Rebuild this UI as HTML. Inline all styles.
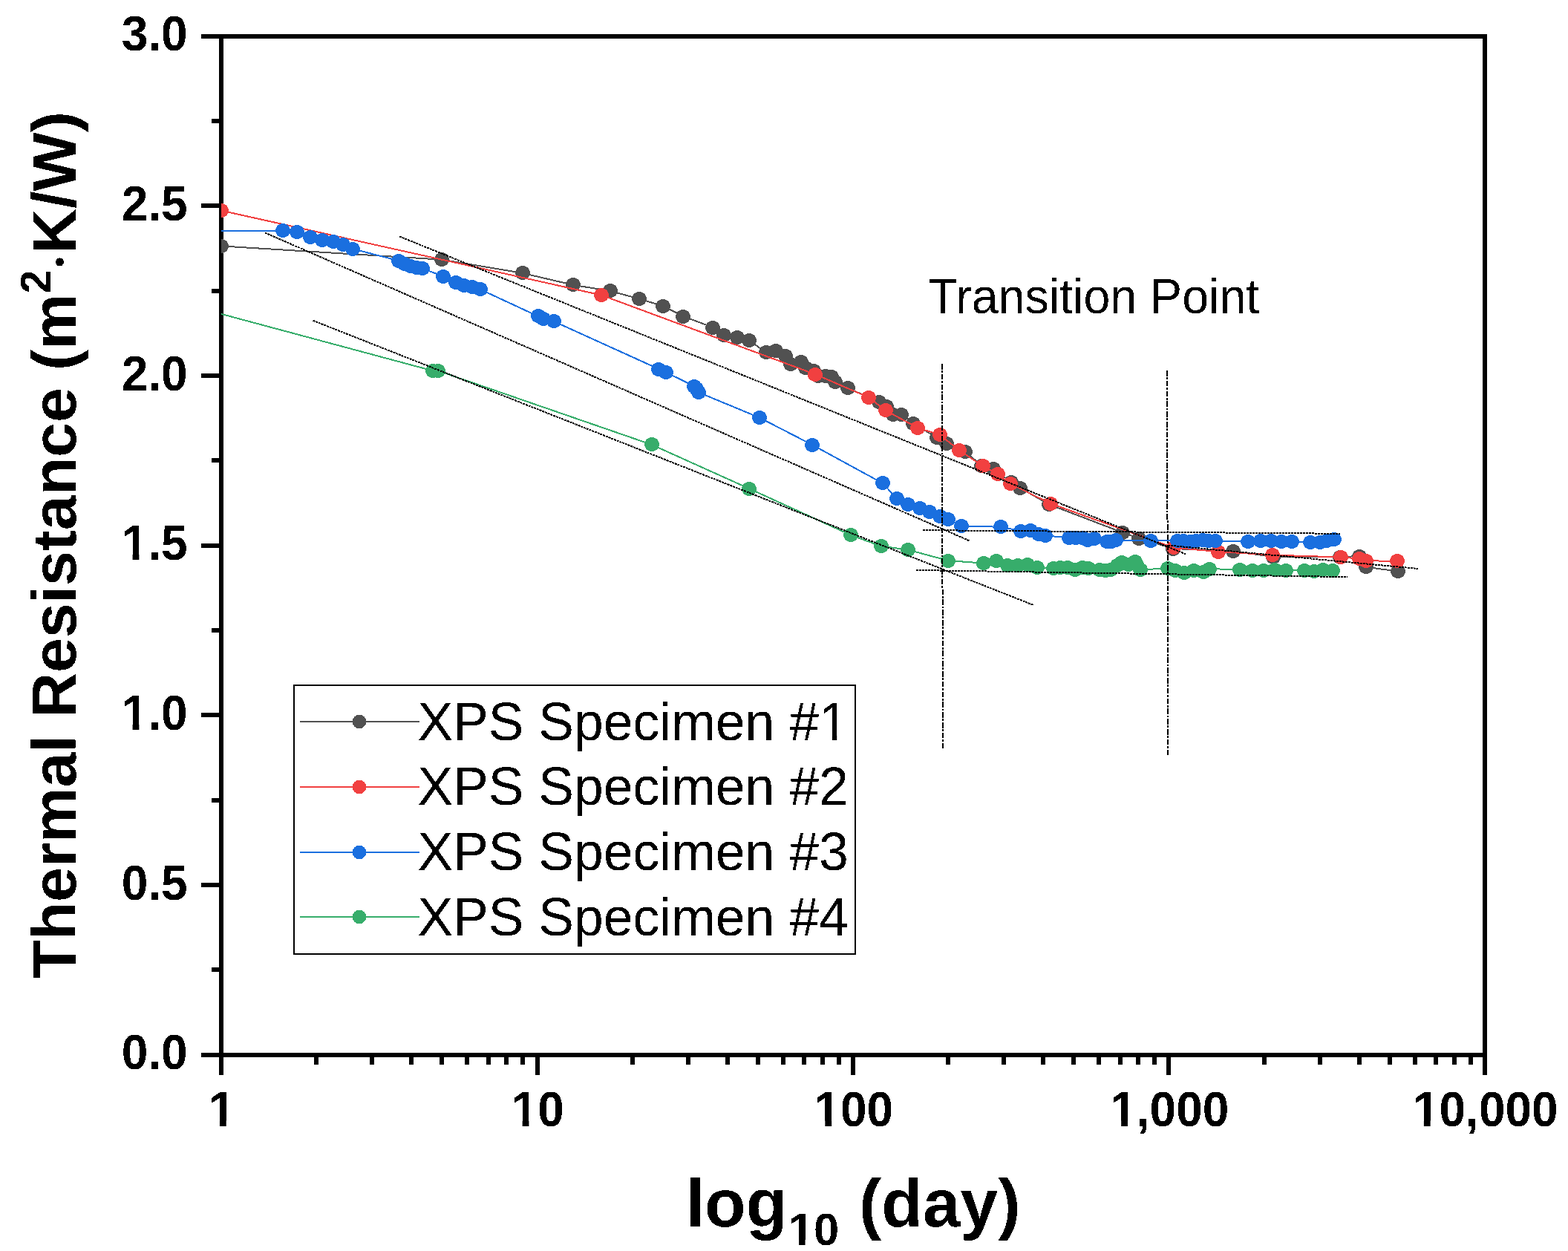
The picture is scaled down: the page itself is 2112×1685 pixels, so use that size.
<!DOCTYPE html>
<html lang="en"><head><meta charset="utf-8"><title>Thermal Resistance vs log10 (day)</title>
<style>
html,body{margin:0;padding:0;background:#fff;}
body{width:2112px;height:1685px;}
svg{display:block;}
text{font-family:"Liberation Sans",Arial,Helvetica,sans-serif;fill:#000;filter:url(#bw);}
.tk{font-weight:bold;}
.ttl{font-weight:bold;}
.lg{}
.an{}
.ds{stroke:#000;stroke-width:2;fill:none;stroke-dasharray:3 1;}
.dv{stroke-dasharray:7.7 1.5 2.9 1.7;}
</style></head><body>
<svg width="2112" height="1685" viewBox="0 0 2112 1685" role="img" aria-label="Thermal resistance of XPS specimens versus log10 day">
<rect width="2112" height="1685" fill="#fff"/>
<defs><filter id="bw" x="-5%" y="-20%" width="110%" height="140%" color-interpolation-filters="sRGB"><feComponentTransfer><feFuncA type="discrete" tableValues="0 1"/></feComponentTransfer></filter><clipPath id="pa"><rect x="298" y="49" width="1702" height="1372"/></clipPath></defs>
<g fill="#000" shape-rendering="crispEdges">
<rect x="295" y="46" width="6" height="1378"/>
<rect x="1997" y="46" width="6" height="1378"/>
<rect x="295" y="46" width="1708" height="6"/>
<rect x="295" y="1418" width="1708" height="6"/>
<rect x="271" y="1418" width="24" height="6"/>
<rect x="285" y="1303" width="10" height="6"/>
<rect x="271" y="1189" width="24" height="6"/>
<rect x="285" y="1075" width="10" height="6"/>
<rect x="271" y="960" width="24" height="6"/>
<rect x="285" y="846" width="10" height="6"/>
<rect x="271" y="732" width="24" height="6"/>
<rect x="285" y="617" width="10" height="6"/>
<rect x="271" y="503" width="24" height="6"/>
<rect x="285" y="389" width="10" height="6"/>
<rect x="271" y="274" width="24" height="6"/>
<rect x="285" y="160" width="10" height="6"/>
<rect x="271" y="46" width="24" height="6"/>
<rect x="295" y="1424" width="6" height="24"/>
<rect x="423" y="1424" width="6" height="10"/>
<rect x="498" y="1424" width="6" height="10"/>
<rect x="551" y="1424" width="6" height="10"/>
<rect x="592" y="1424" width="6" height="10"/>
<rect x="626" y="1424" width="6" height="10"/>
<rect x="655" y="1424" width="6" height="10"/>
<rect x="679" y="1424" width="6" height="10"/>
<rect x="701" y="1424" width="6" height="10"/>
<rect x="721" y="1424" width="6" height="24"/>
<rect x="849" y="1424" width="6" height="10"/>
<rect x="924" y="1424" width="6" height="10"/>
<rect x="977" y="1424" width="6" height="10"/>
<rect x="1018" y="1424" width="6" height="10"/>
<rect x="1052" y="1424" width="6" height="10"/>
<rect x="1080" y="1424" width="6" height="10"/>
<rect x="1105" y="1424" width="6" height="10"/>
<rect x="1127" y="1424" width="6" height="10"/>
<rect x="1146" y="1424" width="6" height="24"/>
<rect x="1274" y="1424" width="6" height="10"/>
<rect x="1349" y="1424" width="6" height="10"/>
<rect x="1402" y="1424" width="6" height="10"/>
<rect x="1443" y="1424" width="6" height="10"/>
<rect x="1477" y="1424" width="6" height="10"/>
<rect x="1506" y="1424" width="6" height="10"/>
<rect x="1530" y="1424" width="6" height="10"/>
<rect x="1552" y="1424" width="6" height="10"/>
<rect x="1571" y="1424" width="6" height="24"/>
<rect x="1700" y="1424" width="6" height="10"/>
<rect x="1775" y="1424" width="6" height="10"/>
<rect x="1828" y="1424" width="6" height="10"/>
<rect x="1869" y="1424" width="6" height="10"/>
<rect x="1903" y="1424" width="6" height="10"/>
<rect x="1931" y="1424" width="6" height="10"/>
<rect x="1956" y="1424" width="6" height="10"/>
<rect x="1978" y="1424" width="6" height="10"/>
<rect x="1997" y="1424" width="6" height="24"/>
</g>
<g clip-path="url(#pa)" shape-rendering="crispEdges">
<polyline points="298.0,331.4 595.2,349.7 704.0,367.9 771.7,383.8 821.9,391.9 860.6,402.5 892.9,412.0 920.2,426.0 960.0,441.0 975.2,451.7 993.0,454.3 1009.4,458.8 1031.5,474.5 1045.4,472.6 1058.0,479.8 1064.9,490.0 1078.6,487.8 1084.7,495.7 1096.0,499.1 1102.1,506.4 1112.0,506.4 1119.6,507.9 1124.9,514.7 1141.6,522.3 1184.4,541.7 1193.5,547.4 1202.6,558.0 1214.4,558.0 1229.8,570.9 1262.1,589.1 1275.0,597.5 1300.0,608.1 1322.0,627.1 1338.0,631.7 1361.6,649.2 1374.5,657.5 1413.2,679.5 1512.4,717.4 1533.7,725.0 1580.3,739.0 1661.4,742.4 1715.4,750.1 1804.8,750.1 1830.9,749.1 1839.8,763.8 1882.9,769.5" fill="none" stroke="#515151" stroke-width="2"/>
<g fill="#515151"><ellipse cx="298.0" cy="331.5" rx="10" ry="9.5"/><ellipse cx="595.0" cy="349.5" rx="10" ry="9.5"/><ellipse cx="704.0" cy="367.5" rx="10" ry="9.5"/><ellipse cx="772.0" cy="383.5" rx="10" ry="9.5"/><ellipse cx="822.0" cy="391.5" rx="10" ry="9.5"/><ellipse cx="861.0" cy="402.5" rx="10" ry="9.5"/><ellipse cx="893.0" cy="412.5" rx="10" ry="9.5"/><ellipse cx="920.0" cy="426.5" rx="10" ry="9.5"/><ellipse cx="960.0" cy="441.5" rx="10" ry="9.5"/><ellipse cx="975.0" cy="451.5" rx="10" ry="9.5"/><ellipse cx="993.0" cy="454.5" rx="10" ry="9.5"/><ellipse cx="1009.0" cy="458.5" rx="10" ry="9.5"/><ellipse cx="1032.0" cy="474.5" rx="10" ry="9.5"/><ellipse cx="1045.0" cy="472.5" rx="10" ry="9.5"/><ellipse cx="1058.0" cy="479.5" rx="10" ry="9.5"/><ellipse cx="1065.0" cy="490.5" rx="10" ry="9.5"/><ellipse cx="1079.0" cy="487.5" rx="10" ry="9.5"/><ellipse cx="1085.0" cy="495.5" rx="10" ry="9.5"/><ellipse cx="1096.0" cy="499.5" rx="10" ry="9.5"/><ellipse cx="1102.0" cy="506.5" rx="10" ry="9.5"/><ellipse cx="1112.0" cy="506.5" rx="10" ry="9.5"/><ellipse cx="1120.0" cy="507.5" rx="10" ry="9.5"/><ellipse cx="1125.0" cy="514.5" rx="10" ry="9.5"/><ellipse cx="1142.0" cy="522.5" rx="10" ry="9.5"/><ellipse cx="1184.0" cy="541.5" rx="10" ry="9.5"/><ellipse cx="1194.0" cy="547.5" rx="10" ry="9.5"/><ellipse cx="1203.0" cy="558.5" rx="10" ry="9.5"/><ellipse cx="1214.0" cy="558.5" rx="10" ry="9.5"/><ellipse cx="1230.0" cy="570.5" rx="10" ry="9.5"/><ellipse cx="1262.0" cy="589.5" rx="10" ry="9.5"/><ellipse cx="1275.0" cy="597.5" rx="10" ry="9.5"/><ellipse cx="1300.0" cy="608.5" rx="10" ry="9.5"/><ellipse cx="1322.0" cy="627.5" rx="10" ry="9.5"/><ellipse cx="1338.0" cy="631.5" rx="10" ry="9.5"/><ellipse cx="1362.0" cy="649.5" rx="10" ry="9.5"/><ellipse cx="1374.0" cy="657.5" rx="10" ry="9.5"/><ellipse cx="1413.0" cy="679.5" rx="10" ry="9.5"/><ellipse cx="1512.0" cy="717.5" rx="10" ry="9.5"/><ellipse cx="1534.0" cy="725.5" rx="10" ry="9.5"/><ellipse cx="1580.0" cy="739.5" rx="10" ry="9.5"/><ellipse cx="1661.0" cy="742.5" rx="10" ry="9.5"/><ellipse cx="1715.0" cy="750.5" rx="10" ry="9.5"/><ellipse cx="1805.0" cy="750.5" rx="10" ry="9.5"/><ellipse cx="1831.0" cy="749.5" rx="10" ry="9.5"/><ellipse cx="1840.0" cy="763.5" rx="10" ry="9.5"/><ellipse cx="1883.0" cy="769.5" rx="10" ry="9.5"/></g>
<polyline points="298.0,283.6 810.0,397.5 1098.0,504.1 1170.2,535.3 1193.0,552.9 1235.9,576.2 1265.9,585.7 1291.7,606.3 1323.6,627.6 1343.8,638.5 1360.9,651.5 1414.6,678.1 1581.2,737.8 1640.7,743.0 1714.2,747.6 1805.8,750.5 1830.9,752.4 1840.3,755.3 1882.0,755.8" fill="none" stroke="#F14040" stroke-width="2"/>
<g fill="#F14040"><ellipse cx="298.0" cy="283.5" rx="10" ry="9.5"/><ellipse cx="810.0" cy="397.5" rx="10" ry="9.5"/><ellipse cx="1098.0" cy="504.5" rx="10" ry="9.5"/><ellipse cx="1170.0" cy="535.5" rx="10" ry="9.5"/><ellipse cx="1193.0" cy="552.5" rx="10" ry="9.5"/><ellipse cx="1236.0" cy="576.5" rx="10" ry="9.5"/><ellipse cx="1266.0" cy="585.5" rx="10" ry="9.5"/><ellipse cx="1292.0" cy="606.5" rx="10" ry="9.5"/><ellipse cx="1324.0" cy="627.5" rx="10" ry="9.5"/><ellipse cx="1344.0" cy="638.5" rx="10" ry="9.5"/><ellipse cx="1361.0" cy="651.5" rx="10" ry="9.5"/><ellipse cx="1415.0" cy="678.5" rx="10" ry="9.5"/><ellipse cx="1581.0" cy="737.5" rx="10" ry="9.5"/><ellipse cx="1641.0" cy="743.5" rx="10" ry="9.5"/><ellipse cx="1714.0" cy="747.5" rx="10" ry="9.5"/><ellipse cx="1806.0" cy="750.5" rx="10" ry="9.5"/><ellipse cx="1831.0" cy="752.5" rx="10" ry="9.5"/><ellipse cx="1840.0" cy="755.5" rx="10" ry="9.5"/><ellipse cx="1882.0" cy="755.5" rx="10" ry="9.5"/></g>
<polyline points="298.0,310.5 380.9,310.5 400.3,312.9 418.4,319.3 433.6,323.5 448.8,325.7 462.5,329.9 475.1,335.2 537.0,351.2 545.3,355.0 552.9,358.0 561.3,360.6 568.9,361.8 597.0,372.0 614.4,380.0 625.0,384.6 636.5,386.9 647.1,389.9 724.6,425.9 732.2,429.7 745.9,432.8 887.2,497.0 897.1,501.6 935.0,520.0 938.0,523.9 940.7,528.4 1023.1,562.6 1094.5,599.4 1189.0,650.9 1208.3,671.8 1222.7,679.4 1239.4,684.3 1251.6,689.7 1265.7,695.6 1277.0,699.2 1294.7,708.4 1347.8,709.8 1374.6,715.0 1387.7,714.8 1399.0,719.2 1408.2,721.5 1440.0,724.3 1449.0,724.5 1457.5,724.5 1465.0,727.3 1473.6,725.5 1490.6,729.2 1497.2,729.7 1503.0,727.8 1549.9,728.3 1585.5,728.0 1594.2,728.5 1602.7,729.0 1611.3,728.3 1619.8,727.5 1628.3,728.8 1636.8,728.8 1680.9,729.2 1698.4,728.8 1711.6,728.3 1725.8,729.2 1740.0,729.2 1764.8,730.2 1777.5,730.0 1786.8,728.3 1797.2,726.9" fill="none" stroke="#1A6FDF" stroke-width="2"/>
<g fill="#1A6FDF"><ellipse cx="381.0" cy="310.5" rx="10" ry="9.5"/><ellipse cx="400.0" cy="312.5" rx="10" ry="9.5"/><ellipse cx="418.0" cy="319.5" rx="10" ry="9.5"/><ellipse cx="434.0" cy="323.5" rx="10" ry="9.5"/><ellipse cx="449.0" cy="325.5" rx="10" ry="9.5"/><ellipse cx="462.0" cy="329.5" rx="10" ry="9.5"/><ellipse cx="475.0" cy="335.5" rx="10" ry="9.5"/><ellipse cx="537.0" cy="351.5" rx="10" ry="9.5"/><ellipse cx="545.0" cy="355.5" rx="10" ry="9.5"/><ellipse cx="553.0" cy="358.5" rx="10" ry="9.5"/><ellipse cx="561.0" cy="360.5" rx="10" ry="9.5"/><ellipse cx="569.0" cy="361.5" rx="10" ry="9.5"/><ellipse cx="597.0" cy="372.5" rx="10" ry="9.5"/><ellipse cx="614.0" cy="380.5" rx="10" ry="9.5"/><ellipse cx="625.0" cy="384.5" rx="10" ry="9.5"/><ellipse cx="636.0" cy="386.5" rx="10" ry="9.5"/><ellipse cx="647.0" cy="389.5" rx="10" ry="9.5"/><ellipse cx="725.0" cy="425.5" rx="10" ry="9.5"/><ellipse cx="732.0" cy="429.5" rx="10" ry="9.5"/><ellipse cx="746.0" cy="432.5" rx="10" ry="9.5"/><ellipse cx="887.0" cy="497.5" rx="10" ry="9.5"/><ellipse cx="897.0" cy="501.5" rx="10" ry="9.5"/><ellipse cx="935.0" cy="520.5" rx="10" ry="9.5"/><ellipse cx="938.0" cy="523.5" rx="10" ry="9.5"/><ellipse cx="941.0" cy="528.5" rx="10" ry="9.5"/><ellipse cx="1023.0" cy="562.5" rx="10" ry="9.5"/><ellipse cx="1094.0" cy="599.5" rx="10" ry="9.5"/><ellipse cx="1189.0" cy="650.5" rx="10" ry="9.5"/><ellipse cx="1208.0" cy="671.5" rx="10" ry="9.5"/><ellipse cx="1223.0" cy="679.5" rx="10" ry="9.5"/><ellipse cx="1239.0" cy="684.5" rx="10" ry="9.5"/><ellipse cx="1252.0" cy="689.5" rx="10" ry="9.5"/><ellipse cx="1266.0" cy="695.5" rx="10" ry="9.5"/><ellipse cx="1277.0" cy="699.5" rx="10" ry="9.5"/><ellipse cx="1295.0" cy="708.5" rx="10" ry="9.5"/><ellipse cx="1348.0" cy="709.5" rx="10" ry="9.5"/><ellipse cx="1375.0" cy="715.5" rx="10" ry="9.5"/><ellipse cx="1388.0" cy="714.5" rx="10" ry="9.5"/><ellipse cx="1399.0" cy="719.5" rx="10" ry="9.5"/><ellipse cx="1408.0" cy="721.5" rx="10" ry="9.5"/><ellipse cx="1440.0" cy="724.5" rx="10" ry="9.5"/><ellipse cx="1449.0" cy="724.5" rx="10" ry="9.5"/><ellipse cx="1458.0" cy="724.5" rx="10" ry="9.5"/><ellipse cx="1465.0" cy="727.5" rx="10" ry="9.5"/><ellipse cx="1474.0" cy="725.5" rx="10" ry="9.5"/><ellipse cx="1491.0" cy="729.5" rx="10" ry="9.5"/><ellipse cx="1497.0" cy="729.5" rx="10" ry="9.5"/><ellipse cx="1503.0" cy="727.5" rx="10" ry="9.5"/><ellipse cx="1550.0" cy="728.5" rx="10" ry="9.5"/><ellipse cx="1586.0" cy="728.5" rx="10" ry="9.5"/><ellipse cx="1594.0" cy="728.5" rx="10" ry="9.5"/><ellipse cx="1603.0" cy="729.5" rx="10" ry="9.5"/><ellipse cx="1611.0" cy="728.5" rx="10" ry="9.5"/><ellipse cx="1620.0" cy="727.5" rx="10" ry="9.5"/><ellipse cx="1628.0" cy="728.5" rx="10" ry="9.5"/><ellipse cx="1637.0" cy="728.5" rx="10" ry="9.5"/><ellipse cx="1681.0" cy="729.5" rx="10" ry="9.5"/><ellipse cx="1698.0" cy="728.5" rx="10" ry="9.5"/><ellipse cx="1712.0" cy="728.5" rx="10" ry="9.5"/><ellipse cx="1726.0" cy="729.5" rx="10" ry="9.5"/><ellipse cx="1740.0" cy="729.5" rx="10" ry="9.5"/><ellipse cx="1765.0" cy="730.5" rx="10" ry="9.5"/><ellipse cx="1778.0" cy="730.5" rx="10" ry="9.5"/><ellipse cx="1787.0" cy="728.5" rx="10" ry="9.5"/><ellipse cx="1797.0" cy="726.5" rx="10" ry="9.5"/></g>
<polyline points="298.0,422.9 583.0,499.4 590.0,499.4 877.5,598.8 1008.8,658.0 1145.7,720.6 1186.6,735.6 1222.6,740.4 1276.7,755.0 1325.3,758.7 1342.0,755.3 1357.4,761.0 1370.8,761.5 1384.3,760.3 1397.2,764.4 1419.0,765.2 1428.0,764.5 1438.5,764.8 1448.0,767.1 1457.5,764.3 1466.0,765.2 1481.1,767.6 1488.7,768.1 1496.3,767.6 1504.8,761.4 1511.4,757.6 1520.0,760.5 1529.4,756.2 1531.0,760.0 1535.6,767.6 1573.0,765.2 1583.0,768.5 1595.0,771.4 1608.4,768.1 1620.7,770.9 1628.8,766.2 1669.5,767.1 1687.0,768.1 1702.2,768.1 1717.3,767.6 1731.7,768.3 1757.3,768.1 1770.5,769.5 1782.1,767.6 1794.9,768.5" fill="none" stroke="#37AD6B" stroke-width="2"/>
<g fill="#37AD6B"><ellipse cx="583.0" cy="499.5" rx="10" ry="9.5"/><ellipse cx="590.0" cy="499.5" rx="10" ry="9.5"/><ellipse cx="878.0" cy="598.5" rx="10" ry="9.5"/><ellipse cx="1009.0" cy="658.5" rx="10" ry="9.5"/><ellipse cx="1146.0" cy="720.5" rx="10" ry="9.5"/><ellipse cx="1187.0" cy="735.5" rx="10" ry="9.5"/><ellipse cx="1223.0" cy="740.5" rx="10" ry="9.5"/><ellipse cx="1277.0" cy="755.5" rx="10" ry="9.5"/><ellipse cx="1325.0" cy="758.5" rx="10" ry="9.5"/><ellipse cx="1342.0" cy="755.5" rx="10" ry="9.5"/><ellipse cx="1357.0" cy="761.5" rx="10" ry="9.5"/><ellipse cx="1371.0" cy="761.5" rx="10" ry="9.5"/><ellipse cx="1384.0" cy="760.5" rx="10" ry="9.5"/><ellipse cx="1397.0" cy="764.5" rx="10" ry="9.5"/><ellipse cx="1419.0" cy="765.5" rx="10" ry="9.5"/><ellipse cx="1428.0" cy="764.5" rx="10" ry="9.5"/><ellipse cx="1438.0" cy="764.5" rx="10" ry="9.5"/><ellipse cx="1448.0" cy="767.5" rx="10" ry="9.5"/><ellipse cx="1458.0" cy="764.5" rx="10" ry="9.5"/><ellipse cx="1466.0" cy="765.5" rx="10" ry="9.5"/><ellipse cx="1481.0" cy="767.5" rx="10" ry="9.5"/><ellipse cx="1489.0" cy="768.5" rx="10" ry="9.5"/><ellipse cx="1496.0" cy="767.5" rx="10" ry="9.5"/><ellipse cx="1505.0" cy="761.5" rx="10" ry="9.5"/><ellipse cx="1511.0" cy="757.5" rx="10" ry="9.5"/><ellipse cx="1520.0" cy="760.5" rx="10" ry="9.5"/><ellipse cx="1529.0" cy="756.5" rx="10" ry="9.5"/><ellipse cx="1531.0" cy="760.5" rx="10" ry="9.5"/><ellipse cx="1536.0" cy="767.5" rx="10" ry="9.5"/><ellipse cx="1573.0" cy="765.5" rx="10" ry="9.5"/><ellipse cx="1583.0" cy="768.5" rx="10" ry="9.5"/><ellipse cx="1595.0" cy="771.5" rx="10" ry="9.5"/><ellipse cx="1608.0" cy="768.5" rx="10" ry="9.5"/><ellipse cx="1621.0" cy="770.5" rx="10" ry="9.5"/><ellipse cx="1629.0" cy="766.5" rx="10" ry="9.5"/><ellipse cx="1670.0" cy="767.5" rx="10" ry="9.5"/><ellipse cx="1687.0" cy="768.5" rx="10" ry="9.5"/><ellipse cx="1702.0" cy="768.5" rx="10" ry="9.5"/><ellipse cx="1717.0" cy="767.5" rx="10" ry="9.5"/><ellipse cx="1732.0" cy="768.5" rx="10" ry="9.5"/><ellipse cx="1757.0" cy="768.5" rx="10" ry="9.5"/><ellipse cx="1770.0" cy="769.5" rx="10" ry="9.5"/><ellipse cx="1782.0" cy="767.5" rx="10" ry="9.5"/><ellipse cx="1795.0" cy="768.5" rx="10" ry="9.5"/></g>
</g>
<g class="ds" shape-rendering="crispEdges">
<line x1="357" y1="313.5" x2="1305.5" y2="728.3"/>
<line x1="538" y1="318.5" x2="1596.8" y2="746.2"/>
<line x1="421.5" y1="431.7" x2="1392" y2="815"/>
<line x1="1243" y1="714.1" x2="1805.3" y2="718.8"/>
<line x1="1234" y1="768" x2="1814.8" y2="777.1"/>
<line x1="1573" y1="734.5" x2="1910" y2="766"/>
<line class="dv" x1="1268.8" y1="490" x2="1270" y2="1008"/>
<line class="dv" x1="1572.2" y1="499" x2="1573" y2="1017"/>
</g>
<text class="tk" transform="translate(252.60,1440.20) scale(1,1.05)" font-size="64" text-anchor="end">0.0</text>
<text class="tk" transform="translate(252.60,1211.53) scale(1,1.05)" font-size="64" text-anchor="end">0.5</text>
<text class="tk" transform="translate(252.60,982.87) scale(1,1.05)" font-size="64" text-anchor="end">1.0</text>
<text class="tk" transform="translate(252.60,754.20) scale(1,1.05)" font-size="64" text-anchor="end">1.5</text>
<text class="tk" transform="translate(252.60,525.53) scale(1,1.05)" font-size="64" text-anchor="end">2.0</text>
<text class="tk" transform="translate(252.60,296.87) scale(1,1.05)" font-size="64" text-anchor="end">2.5</text>
<text class="tk" transform="translate(252.60,68.20) scale(1,1.05)" font-size="64" text-anchor="end">3.0</text>
<text class="tk" transform="translate(298.80,1517.20) scale(1,1.05)" font-size="64" text-anchor="middle">1</text>
<text class="tk" transform="translate(724.30,1517.20) scale(1,1.05)" font-size="64" text-anchor="middle">10</text>
<text class="tk" transform="translate(1149.80,1517.20) scale(1,1.05)" font-size="64" text-anchor="middle">100</text>
<text class="tk" transform="translate(1575.30,1517.20) scale(1,1.05)" font-size="64" text-anchor="middle">1,000</text>
<text class="tk" transform="translate(2000.80,1517.20) scale(1,1.05)" font-size="64" text-anchor="middle">10,000</text>
<text class="ttl" x="923.8" y="1652" font-size="91">log<tspan font-size="61.5" dx="1.5" dy="25">10</tspan><tspan dx="1.6" dy="-25"> (day)</tspan></text>
<text class="ttl" transform="translate(102,1317.6) rotate(-90)" font-size="84.2">Thermal Resistance (m<tspan font-size="56.5" dx="0.7" dy="-34">2</tspan><tspan font-size="38.5" dx="4.2" dy="25.2">•</tspan><tspan dx="4.3" dy="8.8">K/W)</tspan></text>
<text class="an" transform="translate(1250.20,421.60) scale(1,1.02)" font-size="64.55">Transition Point</text>
<rect x="396" y="923" width="756" height="362" fill="#fff" stroke="#000" stroke-width="2" shape-rendering="crispEdges"/>
<line x1="404" y1="972" x2="565" y2="972" stroke="#515151" stroke-width="2" shape-rendering="crispEdges"/>
<circle cx="484" cy="972" r="9.2" fill="#515151" shape-rendering="crispEdges"/>
<text class="lg" transform="translate(562.40,997.00)" font-size="71.5">XPS Specimen #1</text>
<line x1="404" y1="1060" x2="565" y2="1060" stroke="#F14040" stroke-width="2" shape-rendering="crispEdges"/>
<circle cx="484" cy="1060" r="9.2" fill="#F14040" shape-rendering="crispEdges"/>
<text class="lg" transform="translate(562.40,1084.30)" font-size="71.5">XPS Specimen #2</text>
<line x1="404" y1="1148" x2="565" y2="1148" stroke="#1A6FDF" stroke-width="2" shape-rendering="crispEdges"/>
<circle cx="484" cy="1148" r="9.2" fill="#1A6FDF" shape-rendering="crispEdges"/>
<text class="lg" transform="translate(562.40,1172.00)" font-size="71.5">XPS Specimen #3</text>
<line x1="404" y1="1235" x2="565" y2="1235" stroke="#37AD6B" stroke-width="2" shape-rendering="crispEdges"/>
<circle cx="484" cy="1235" r="9.2" fill="#37AD6B" shape-rendering="crispEdges"/>
<text class="lg" transform="translate(562.40,1259.70)" font-size="71.5">XPS Specimen #4</text>
<g fill="#fff"><rect x="166.46" y="975.21" width="12.11" height="8.86"/><rect x="187.35" y="975.21" width="11.29" height="8.86"/><rect x="166.46" y="746.54" width="12.11" height="8.86"/><rect x="187.35" y="746.54" width="11.29" height="8.86"/><rect x="283.83" y="1509.54" width="12.11" height="8.86"/><rect x="304.72" y="1509.54" width="11.29" height="8.86"/><rect x="691.54" y="1509.54" width="12.11" height="8.86"/><rect x="712.42" y="1509.54" width="11.29" height="8.86"/><rect x="1099.24" y="1509.54" width="12.11" height="8.86"/><rect x="1120.13" y="1509.54" width="11.29" height="8.86"/><rect x="1498.05" y="1509.54" width="12.11" height="8.86"/><rect x="1518.94" y="1509.54" width="11.29" height="8.86"/><rect x="1905.76" y="1509.54" width="12.11" height="8.86"/><rect x="1926.64" y="1509.54" width="11.29" height="8.86"/><rect x="1064.43" y="1669.92" width="11.68" height="8.28"/><rect x="1084.55" y="1669.92" width="10.90" height="8.28"/><rect x="1107.16" y="990.86" width="13.73" height="7.34"/><rect x="1127.21" y="990.86" width="13.17" height="7.34"/></g>
</svg>
</body></html>
